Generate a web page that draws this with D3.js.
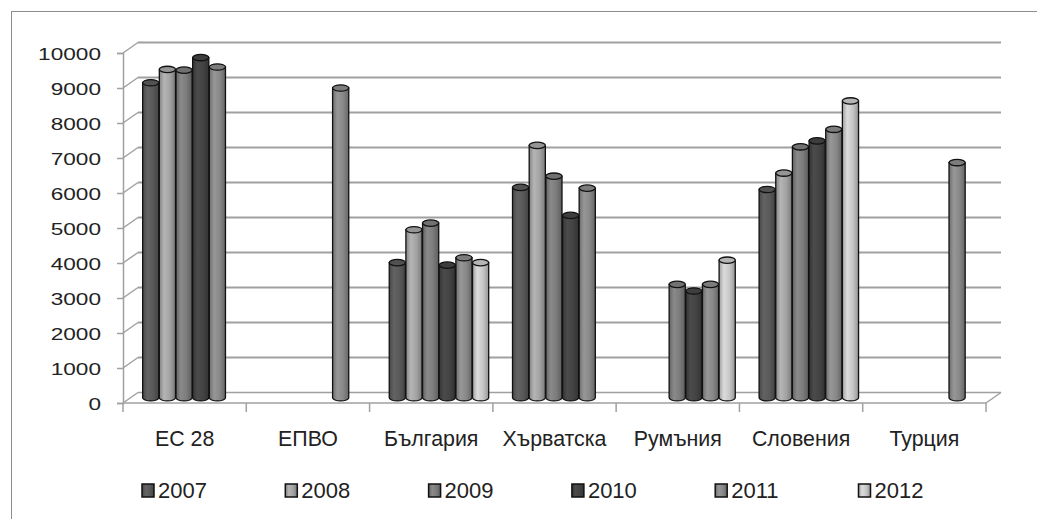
<!DOCTYPE html>
<html>
<head>
<meta charset="utf-8">
<script src="https://cdn.jsdelivr.net/npm/d3@7/dist/d3.min.js"></script>
<style>
  html, body { margin: 0; padding: 0; background: #fff; }
  svg { display: block; }
</style>
</head>
<body>
<svg id="chart" width="1037" height="519"></svg>
<script>
// Categories and yearly series (null = no value for that country/year)
const categories = ["ЕС 28", "ЕПВО", "България", "Хърватска", "Румъния", "Словения", "Турция"];
const years = ["2007", "2008", "2009", "2010", "2011", "2012"];
const values2007 = [9000, null, 3860, 6010, null, 5950, null];
const values2008 = [9380, null, 4800, 7210, null, 6420, null];
const values2009 = [9360, null, 4990, 6330, 3240, 7170, null];
const values2010 = [9720, null, 3790, 5210, 3050, 7340, null];
const values2011 = [9450, 8850, 4000, 5990, 3240, 7670, 6720];
const values2012 = [null, null, 3860, null, 3930, 8480, null];
const yTicks = [0, 1000, 2000, 3000, 4000, 5000, 6000, 7000, 8000, 9000, 10000];
const seriesColors = ["#595959", "#a3a3a3", "#7c7c7c", "#434343", "#888888", "#c6c6c6"];

const seriesValues = [values2007, values2008, values2009, values2010, values2011, values2012];
const series = years.map((yr, i) => ({ year: yr, color: seriesColors[i], values: seriesValues[i] }));

const svg = d3.select("#chart");
const W = 1037, H = 519;

// 3D-ish layout: front plane, back wall offset by (dx, dy)
const plotLeft = 123, plotRight = 986, plotBottom = 403, plotTop = 53;
const dx = 15, dy = -10.5;

const x0 = d3.scaleBand().domain(categories).range([plotLeft, plotRight]).paddingInner(0).paddingOuter(0);
const x1 = d3.scaleBand().domain(years).range([0, x0.bandwidth()]).paddingInner(0).paddingOuter(0.7);
const y = d3.scaleLinear().domain([0, 10000]).range([plotBottom, plotTop]);

// Outer chart frame
svg.append("rect")
  .attr("x", 11.5).attr("y", 11.5)
  .attr("width", W + 20).attr("height", H + 20)
  .attr("fill", "none").attr("stroke", "#8c8c8c").attr("stroke-width", 1);

const gridColor = "#a0a0a0";

// Back wall gridlines and side-wall diagonals
const grid = svg.append("g");
yTicks.forEach(t => {
  const yf = y(t);
  grid.append("line")
    .attr("x1", plotLeft + dx).attr("x2", plotRight + dx)
    .attr("y1", yf + dy).attr("y2", yf + dy)
    .attr("stroke", gridColor).attr("stroke-width", t === 0 ? 1.5 : 2);
  grid.append("line")
    .attr("x1", plotLeft).attr("x2", plotLeft + dx)
    .attr("y1", yf).attr("y2", yf + dy)
    .attr("stroke", gridColor).attr("stroke-width", 1.5);
});

// Floor: front edge and right diagonal
grid.append("line")
  .attr("x1", plotLeft).attr("x2", plotRight).attr("y1", plotBottom).attr("y2", plotBottom)
  .attr("stroke", gridColor).attr("stroke-width", 1.5);
grid.append("line")
  .attr("x1", plotRight).attr("x2", plotRight + dx).attr("y1", plotBottom).attr("y2", plotBottom + dy)
  .attr("stroke", gridColor).attr("stroke-width", 1.5);

// Value axis on the front-left edge
const yAxis = svg.append("g")
  .attr("transform", `translate(${plotLeft},0)`)
  .call(d3.axisLeft(y).tickValues(yTicks).tickSize(6).tickFormat(""));
yAxis.select(".domain").attr("stroke", gridColor).attr("stroke-width", 1.5);
yAxis.selectAll(".tick line").attr("stroke", gridColor).attr("stroke-width", 1.5);

// Value labels
svg.append("g").selectAll("text")
  .data(yTicks)
  .join("text")
  .attr("transform", d => `translate(101,${y(d) + 1}) scale(1.33,1)`)
  .attr("text-anchor", "end")
  .attr("dominant-baseline", "central")
  .attr("font-family", "Liberation Sans, Arial, sans-serif")
  .attr("font-size", 17)
  .attr("fill", "#222")
  .text(d => d);

// Category axis ticks along the floor front edge
const catTicks = categories.map(c => x0(c)).concat([plotRight]);
svg.append("g").selectAll("line")
  .data(catTicks)
  .join("line")
  .attr("x1", d => d).attr("x2", d => d)
  .attr("y1", plotBottom).attr("y2", plotBottom + 9)
  .attr("stroke", gridColor).attr("stroke-width", 1.5);

// Category labels
svg.append("g").selectAll("text")
  .data(categories)
  .join("text")
  .attr("transform", d => `translate(${x0(d) + x0.bandwidth() / 2},446) scale(0.93,1)`)
  .attr("text-anchor", "middle")
  .attr("font-family", "Liberation Sans, Arial, sans-serif")
  .attr("font-size", 23)
  .attr("fill", "#222")
  .text(d => d);

// Cylinder shading gradients, one per series
const defs = svg.append("defs");
series.forEach((s, i) => {
  const c = d3.color(s.color);
  const g = defs.append("linearGradient")
    .attr("id", "cyl" + i)
    .attr("x1", "0%").attr("x2", "100%").attr("y1", "0%").attr("y2", "0%");
  g.append("stop").attr("offset", "0%").attr("stop-color", c.darker(0.6));
  g.append("stop").attr("offset", "30%").attr("stop-color", c.brighter(0.3));
  g.append("stop").attr("offset", "65%").attr("stop-color", c);
  g.append("stop").attr("offset", "100%").attr("stop-color", c.darker(0.8));
});

// Cylindrical columns, sitting mid-depth on the floor
const bars = [];
categories.forEach((cat, ci) => {
  series.forEach((s, si) => {
    const v = s.values[ci];
    if (v == null) return;
    bars.push({ cat, year: s.year, value: v, si });
  });
});

const ry = 3.2;
const barG = svg.append("g");
bars.forEach(b => {
  const xl = x0(b.cat) + x1(b.year) + dx / 2 + 0.5;
  const w = x1.bandwidth() - 0.5;
  const yt = y(b.value) + dy / 2;
  const yb = y(0) + dy / 2;
  const g = barG.append("g");
  g.append("path")
    .attr("d", `M${xl},${yt} L${xl},${yb} A${w / 2},${ry} 0 0 0 ${xl + w},${yb} L${xl + w},${yt} Z`)
    .attr("fill", `url(#cyl${b.si})`)
    .attr("stroke", "#111").attr("stroke-width", 1.3);
  g.append("ellipse")
    .attr("cx", xl + w / 2).attr("cy", yt)
    .attr("rx", w / 2).attr("ry", ry)
    .attr("fill", d3.color(series[b.si].color).darker(0.25))
    .attr("stroke", "#111").attr("stroke-width", 1.3);
});

// Legend
const legend = svg.append("g");
series.forEach((s, i) => {
  const lx = 142 + i * 143.3;
  legend.append("rect")
    .attr("x", lx).attr("y", 484)
    .attr("width", 12).attr("height", 13)
    .attr("fill", `url(#cyl${i})`)
    .attr("stroke", "#111").attr("stroke-width", 1.5);
  legend.append("text")
    .attr("x", lx + 16).attr("y", 498)
    .attr("font-family", "Liberation Sans, Arial, sans-serif")
    .attr("font-size", 22)
    .attr("fill", "#222")
    .text(s.year);
});
</script>
</body>
</html>
